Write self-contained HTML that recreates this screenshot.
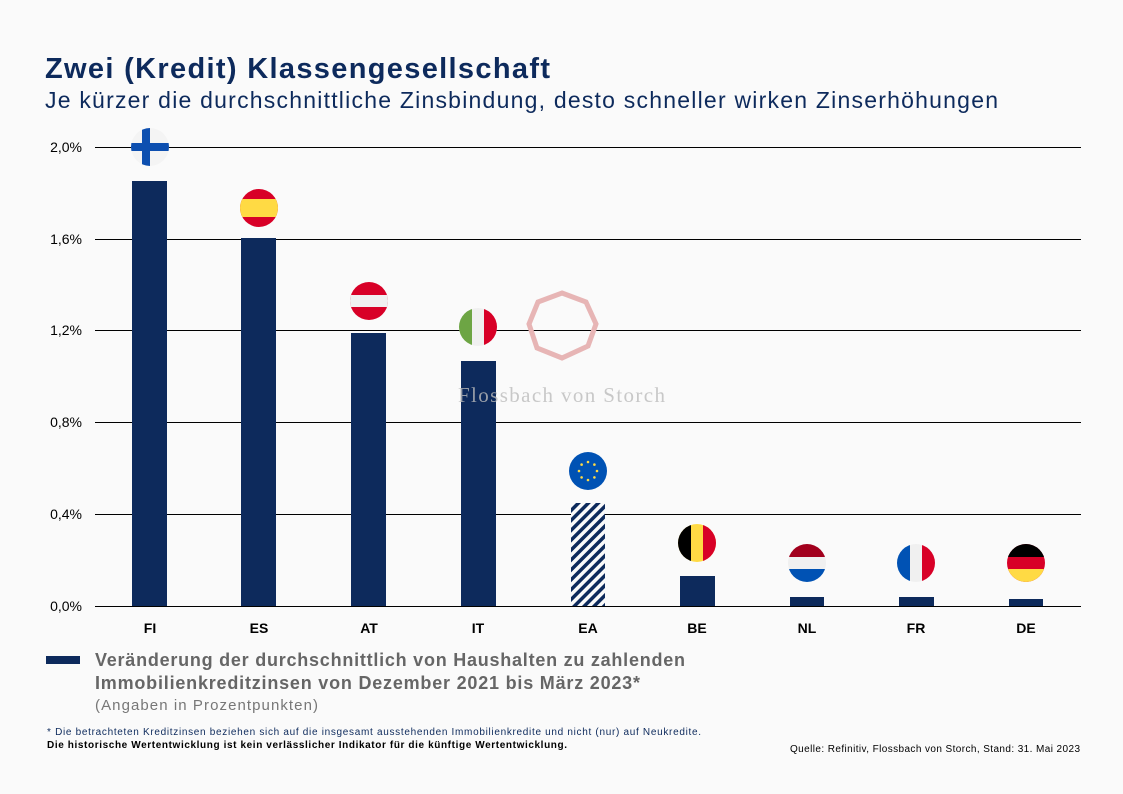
<!DOCTYPE html>
<html><head><meta charset="utf-8"><style>
body{margin:0;background:#fafafa;}
svg{display:block;font-family:"Liberation Sans",sans-serif;}
</style></head><body>
<svg width="1123" height="794" viewBox="0 0 1123 794" xmlns="http://www.w3.org/2000/svg">
<defs>
<pattern id="h" width="7" height="7" patternUnits="userSpaceOnUse" patternTransform="rotate(45)">
<rect width="7" height="7" fill="#fafafa"/><rect width="3.5" height="7" fill="#0d2a5c"/></pattern>
<clipPath id="c"><circle r="19"/></clipPath>
</defs>
<rect width="1123" height="794" fill="#fafafa"/>
<text x="45" y="78" font-size="29" font-weight="bold" fill="#0d2a5c" textLength="505">Zwei (Kredit) Klassengesellschaft</text>
<text x="45" y="108" font-size="23" fill="#0d2a5c" textLength="953">Je kürzer die durchschnittliche Zinsbindung, desto schneller wirken Zinserhöhungen</text>
<g stroke="#000" stroke-width="1">
<line x1="95" x2="1081" y1="147.5" y2="147.5"/><line x1="95" x2="1081" y1="239.5" y2="239.5"/>
<line x1="95" x2="1081" y1="330.5" y2="330.5"/><line x1="95" x2="1081" y1="422.5" y2="422.5"/>
<line x1="95" x2="1081" y1="514.5" y2="514.5"/><line x1="95" x2="1081" y1="606.5" y2="606.5"/>
</g>
<g font-size="14" fill="#000" text-anchor="end">
<text x="82" y="152">2,0%</text><text x="82" y="244">1,6%</text><text x="82" y="335">1,2%</text>
<text x="82" y="427">0,8%</text><text x="82" y="519">0,4%</text><text x="82" y="611">0,0%</text>
</g>
<g fill="#0d2a5c">
<rect x="132" y="181" width="35" height="425"/>
<rect x="241" y="238" width="35" height="368"/>
<rect x="351" y="333" width="35" height="273"/>
<rect x="461" y="361" width="35" height="245"/>
<rect x="680" y="576" width="35" height="30"/>
<rect x="790" y="597" width="34" height="9"/>
<rect x="899" y="597" width="35" height="9"/>
<rect x="1009" y="599" width="34" height="7"/>
</g>
<rect x="571" y="503" width="34" height="103" fill="url(#h)"/>
<polygon points="562,293 586,302 596,324 588,346 562,358 537,348 529,324 538,302" fill="none" stroke="#e7b5b5" stroke-width="5"/>
<text x="458" y="402" font-family="Liberation Serif,serif" font-size="21" fill="#bbb" fill-opacity="0.8" textLength="207">Flossbach von Storch</text>
<g font-size="14" font-weight="bold" text-anchor="middle">
<text x="150" y="633">FI</text><text x="259" y="633">ES</text><text x="369" y="633">AT</text><text x="478" y="633">IT</text>
<text x="588" y="633">EA</text><text x="697" y="633">BE</text><text x="807" y="633">NL</text><text x="916" y="633">FR</text><text x="1026" y="633">DE</text>
</g>
<g transform="translate(150,147)" clip-path="url(#c)"><rect x="-19" y="-19" width="38" height="38" fill="#f4f4f4"/><rect x="-19" y="-4" width="38" height="8" fill="#0d4fb0"/><rect x="-8" y="-19" width="8" height="38" fill="#0d4fb0"/></g>
<g transform="translate(259,208)" clip-path="url(#c)"><rect x="-19" y="-19" width="38" height="38" fill="#d80027"/><rect x="-19" y="-9" width="38" height="18" fill="#ffda44"/></g>
<g transform="translate(369,301)" clip-path="url(#c)"><rect x="-19" y="-19" width="38" height="38" fill="#d80027"/><rect x="-19" y="-6" width="38" height="12" fill="#f0f0f0"/></g>
<g transform="translate(478,327)" clip-path="url(#c)"><rect x="-19" y="-19" width="38" height="38" fill="#f0f0f0"/><rect x="-19" y="-19" width="13" height="38" fill="#6da544"/><rect x="6" y="-19" width="13" height="38" fill="#d80027"/></g>
<g transform="translate(588,471)" clip-path="url(#c)"><rect x="-19" y="-19" width="38" height="38" fill="#0052b4"/>
<g fill="#ffda44"><circle cx="0" cy="-9" r="1.3"/><circle cx="0" cy="9" r="1.3"/><circle cx="-9" cy="0" r="1.3"/><circle cx="9" cy="0" r="1.3"/><circle cx="6.4" cy="-6.4" r="1.3"/><circle cx="-6.4" cy="-6.4" r="1.3"/><circle cx="6.4" cy="6.4" r="1.3"/><circle cx="-6.4" cy="6.4" r="1.3"/></g></g>
<g transform="translate(697,543)" clip-path="url(#c)"><rect x="-19" y="-19" width="38" height="38" fill="#ffda44"/><rect x="-19" y="-19" width="13" height="38" fill="#000"/><rect x="6" y="-19" width="13" height="38" fill="#d80027"/></g>
<g transform="translate(807,563)" clip-path="url(#c)"><rect x="-19" y="-19" width="38" height="38" fill="#f0f0f0"/><rect x="-19" y="-19" width="38" height="13" fill="#a2001d"/><rect x="-19" y="6" width="38" height="13" fill="#0052b4"/></g>
<g transform="translate(916,563)" clip-path="url(#c)"><rect x="-19" y="-19" width="38" height="38" fill="#f0f0f0"/><rect x="-19" y="-19" width="13" height="38" fill="#0052b4"/><rect x="6" y="-19" width="13" height="38" fill="#d80027"/></g>
<g transform="translate(1026,563)" clip-path="url(#c)"><rect x="-19" y="-19" width="38" height="38" fill="#d80027"/><rect x="-19" y="-19" width="38" height="13" fill="#000"/><rect x="-19" y="6" width="38" height="13" fill="#ffda44"/></g>
<rect x="46" y="656" width="34" height="8" fill="#0d2a5c"/>
<text x="95" y="666" font-size="18" font-weight="bold" fill="#666" textLength="590">Veränderung der durchschnittlich von Haushalten zu zahlenden</text>
<text x="95" y="689" font-size="18" font-weight="bold" fill="#666" textLength="545">Immobilienkreditzinsen von Dezember 2021 bis März 2023*</text>
<text x="95" y="710" font-size="15" fill="#777" textLength="223">(Angaben in Prozentpunkten)</text>
<text x="47" y="735" font-size="10" fill="#0d2a5c" textLength="654">* Die betrachteten Kreditzinsen beziehen sich auf die insgesamt ausstehenden Immobilienkredite und nicht (nur) auf Neukredite.</text>
<text x="47" y="748" font-size="10" font-weight="bold" fill="#000" textLength="520">Die historische Wertentwicklung ist kein verlässlicher Indikator für die künftige Wertentwicklung.</text>
<text x="1080" y="752" font-size="10" fill="#000" text-anchor="end" textLength="290">Quelle: Refinitiv, Flossbach von Storch, Stand: 31. Mai 2023</text>
</svg>
</body></html>
